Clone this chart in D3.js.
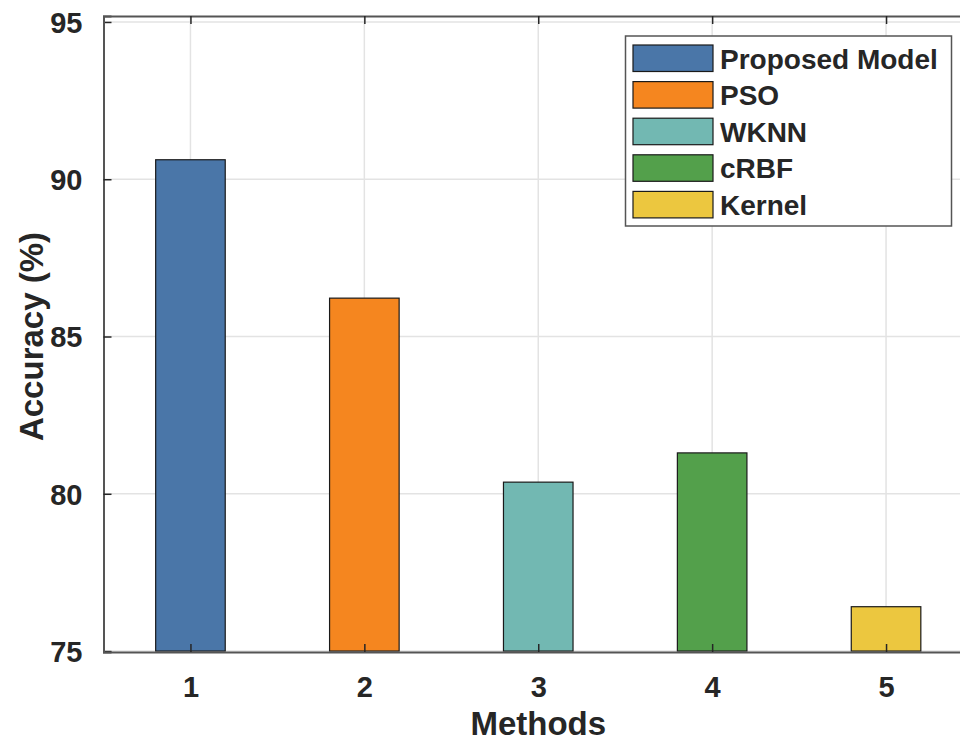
<!DOCTYPE html>
<html>
<head>
<meta charset="utf-8">
<script src="https://cdn.jsdelivr.net/npm/d3@7"></script>
<style>
html,body{margin:0;padding:0;background:#fff;overflow:hidden;}
text{font-family:"Liberation Sans",Arial,sans-serif;font-weight:bold;fill:#262626;}
</style>
</head>
<body>
<svg id="chart" width="960" height="742"></svg>
<script>
const methods = [1, 2, 3, 4, 5];
const seriesNames = ["Proposed Model", "PSO", "WKNN", "cRBF", "Kernel"];
const accuracy = [90.62, 86.22, 80.37, 81.30, 76.41];
const colors = ["#4a76a8", "#f5861f", "#72b8b2", "#53a04b", "#ecc73f"];
const yTicks = [75, 80, 85, 90, 95];
const xLabel = "Methods";
const yLabel = "Accuracy (%)";

(function () {
const svg = d3.select("#chart");
const pLeft = 103.5, pTop = 16, pBottom = 652, pRight = 973;
const x = d3.scaleLinear().domain([0.5, 5.5]).range([pLeft, pRight]);
const y = d3.scaleLinear().domain([74.97, 95.19]).range([pBottom, pTop]);
const barW = x(1.4) - x(1);

// grid
const grid = svg.append("g");
grid.selectAll("line.gy").data(yTicks).join("line").attr("class", "gy")
  .attr("x1", pLeft).attr("x2", pRight).attr("y1", d => y(d)).attr("y2", d => y(d))
  .attr("stroke", "#e3e3e3").attr("stroke-width", 1.5);
grid.selectAll("line.gx").data(methods).join("line").attr("class", "gx")
  .attr("y1", pTop).attr("y2", pBottom).attr("x1", d => x(d)).attr("x2", d => x(d))
  .attr("stroke", "#e3e3e3").attr("stroke-width", 1.5);

// bars
svg.append("g").selectAll("rect").data(methods).join("rect")
  .attr("x", d => x(d) - barW / 2)
  .attr("width", barW)
  .attr("y", (d, i) => y(accuracy[i]))
  .attr("height", (d, i) => y(75) - y(accuracy[i]))
  .attr("fill", (d, i) => colors[i])
  .attr("stroke", "#1a1a1a").attr("stroke-width", 1.2);

// axes
const yAxis = d3.axisLeft(y).tickValues(yTicks).tickSize(-8).tickPadding(21).tickFormat(d3.format("d"));
const gy = svg.append("g").attr("transform", `translate(${pLeft},0)`).call(yAxis);
const xAxis = d3.axisBottom(x).tickValues(methods).tickSize(-8).tickPadding(45).tickFormat(d3.format("d"));
const gx = svg.append("g").attr("transform", `translate(0,${pBottom})`).call(xAxis);
const xTop = d3.axisTop(x).tickValues(methods).tickSize(-8).tickFormat("");
const gt = svg.append("g").attr("transform", `translate(0,${pTop})`).call(xTop);
const yRight = d3.axisRight(y).tickValues(yTicks).tickSize(-8).tickFormat("");
svg.append("g").attr("transform", `translate(${pRight},0)`).call(yRight);

[gy, gx, gt].forEach(g => {
  g.select(".domain").attr("stroke", "#555").attr("stroke-width", 2);
  g.selectAll(".tick line").attr("stroke", "#262626").attr("stroke-width", 1.5);
  g.selectAll(".tick text").style("font-size", "29px").style("font-family", "'Liberation Sans',Arial,sans-serif").style("font-weight", "bold").attr("fill", "#262626");
});
gy.selectAll(".tick text").attr("dy", "0.36em");
gx.selectAll(".tick text").attr("dy", "0");

// axis labels
svg.append("text").attr("x", x(3)).attr("y", 735).attr("text-anchor", "middle")
  .style("font-size", "33px").text(xLabel);
svg.append("text").attr("transform", `translate(43,${y(85) - 0}) rotate(-90)`)
  .attr("text-anchor", "middle").style("font-size", "33px").text(yLabel);

// legend
const lg = svg.append("g");
lg.append("rect").attr("x", 625.5).attr("y", 36).attr("width", 326).attr("height", 190)
  .attr("fill", "#fff").attr("stroke", "#555").attr("stroke-width", 1.5);
const items = lg.selectAll("g.item").data(seriesNames).join("g").attr("class", "item")
  .attr("transform", (d, i) => `translate(633,${45 + i * 36.6})`);
items.append("rect").attr("width", 80).attr("height", 26.5)
  .attr("fill", (d, i) => colors[i]).attr("stroke", "#1a1a1a").attr("stroke-width", 1.2);
items.append("text").attr("x", 87).attr("y", 23.5).style("font-size", "28px").text(d => d);
})();
</script>
</body>
</html>
